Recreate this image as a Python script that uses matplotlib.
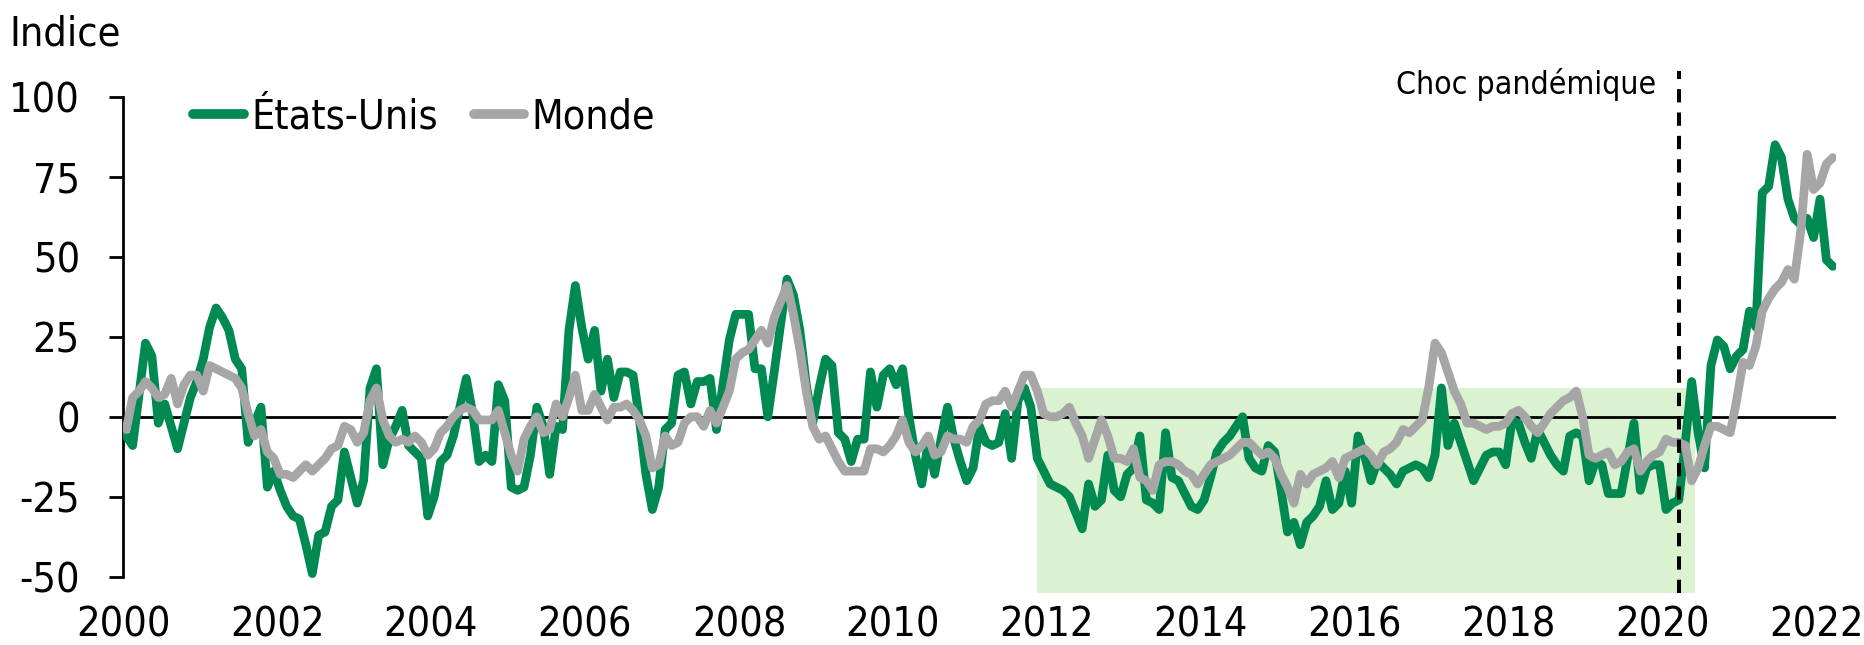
import numpy as np
import matplotlib
matplotlib.use("Agg")
import matplotlib.pyplot as plt
from matplotlib import font_manager as fm
from matplotlib.textpath import TextPath

plt.rcParams['axes.unicode_minus'] = False

# valeurs mensuelles, janvier 2000 a mars 2022
etats_unis = [
    -6, -9, 7, 23, 19, -2, 4, -3, -10, -2, 6, 11,            # 2000
    18, 28, 34, 31, 27, 18, 15, -8, -2, 3, -22, -17,         # 2001
    -23, -28, -31, -32, -40, -49, -37, -36, -28, -26, -11, -19,  # 2002
    -27, -20, 9, 15, -15, -7, -3, 2, -9, -11, -13, -31,      # 2003
    -25, -14, -12, -6, 3, 12, 1, -14, -12, -14, 10, 5,       # 2004
    -22, -23, -22, -12, 3, -3, -18, -3, -4, 27, 41, 28,      # 2005
    18, 27, 8, 18, 6, 14, 14, 13, -1, -18, -29, -22,         # 2006
    -4, -2, 13, 14, 4, 11, 11, 12, -4, 10, 24, 32,           # 2007
    32, 32, 15, 15, 0, 14, 29, 43, 38, 27, 10, -2,           # 2008
    9, 18, 16, -5, -7, -14, -7, -7, 14, 3, 13, 15,           # 2009
    10, 15, 0, -12, -21, -8, -18, -7, 3, -7, -14, -20,       # 2010
    -16, -3, -8, -9, -8, 1, -13, 5, 9, 3, -13, -17,          # 2011
    -21, -22, -23, -25, -30, -35, -21, -28, -26, -12, -23, -25,  # 2012
    -18, -16, -6, -26, -27, -29, -5, -19, -20, -24, -28, -29,    # 2013
    -26, -19, -11, -8, -6, -3, 0, -13, -16, -17, -9, -11,        # 2014
    -23, -36, -33, -40, -33, -31, -28, -20, -29, -27, -17, -27,  # 2015
    -6, -12, -20, -14, -16, -18, -21, -17, -16, -15, -16, -19,   # 2016
    -12, 9, -9, -2, -8, -14, -20, -16, -12, -11, -11, -15,       # 2017
    -1, -2, -8, -13, -4, -8, -12, -15, -17, -6, -5, -6,          # 2018
    -20, -14, -15, -24, -24, -24, -13, -2, -23, -16, -15, -15,   # 2019
    -29, -27, -26, -8, 11, -5, -16, 16, 24, 22, 15, 19,          # 2020
    21, 33, 28, 70, 72, 85, 81, 68, 62, 60, 62, 56,              # 2021
    68, 49, 47,                                                  # 2022
]

monde = [
    -4, 6, 8, 11, 9, 6, 7, 12, 4, 10, 13, 13,                # 2000
    8, 16, 15, 14, 13, 12, 9, 1, -6, -4, -11, -13,           # 2001
    -18, -18, -19, -17, -15, -17, -15, -13, -10, -9, -3, -4, # 2002
    -8, -5, 5, 9, -1, -6, -8, -7, -8, -6, -8, -12,           # 2003
    -10, -5, -3, 0, 2, 3, 2, -1, -1, -1, 2, -5,              # 2004
    -12, -17, -7, -3, 0, -5, -4, 4, 0, 6, 13, 2,             # 2005
    2, 7, 3, -1, 3, 3, 4, 2, -1, -6, -16, -15,               # 2006
    -6, -9, -8, -2, 0, 0, -3, 2, -2, 3, 8, 18,               # 2007
    20, 21, 24, 27, 23, 31, 36, 41, 32, 21, 8, -3,           # 2008
    -7, -6, -10, -14, -17, -17, -17, -17, -10, -10, -11, -9, # 2009
    -6, -1, -8, -11, -9, -6, -12, -11, -6, -7, -7, -8,       # 2010
    -3, -1, 4, 5, 5, 8, 3, 8, 13, 13, 8, 1,                  # 2011
    0, 0, 1, 3, -2, -6, -13, -7, -1, -6, -13, -13,           # 2012
    -14, -10, -19, -20, -23, -15, -14, -14, -15, -17, -18, -21,  # 2013
    -18, -15, -14, -13, -12, -10, -8, -8, -10, -12, -11, -13,    # 2014
    -18, -22, -27, -18, -21, -18, -17, -16, -14, -19, -13, -12,  # 2015
    -11, -10, -12, -15, -11, -10, -8, -4, -5, -3, -1, 9,         # 2016
    23, 20, 14, 8, 4, -2, -2, -3, -4, -3, -3, -2,                # 2017
    1, 2, 0, -3, -5, -2, 1, 3, 5, 6, 8, 0,                       # 2018
    -12, -13, -12, -11, -15, -14, -11, -10, -17, -14, -12, -11,  # 2019
    -7, -8, -8, -9, -20, -16, -9, -3, -3, -4, -5, 5,             # 2020
    17, 16, 22, 33, 37, 40, 42, 46, 43, 58, 82, 71,              # 2021
    73, 79, 81,                                                  # 2022
]

annees_ticks = list(range(2000, 2023, 2))
y_ticks = [-50, -25, 0, 25, 50, 75, 100]

# zone ombragee et choc pandemique
zone_debut = 2011 + 10.5 / 12
zone_fin = 2020 + 5 / 12
zone_bas = -55
zone_haut = 9
choc = 2020 + 2.5 / 12

VERT = '#008A52'
GRIS = '#A6A6A6'
OMBRE = '#DAF2D0'


def choisir_police():
    # police etroite si elle existe, sinon une sans-serif ordinaire
    ordre = ['Liberation Sans Narrow', 'Open Sans', 'Noto Sans', 'Roboto', 'Lato',
             'DejaVu Sans', 'Inter', 'Liberation Sans']
    etroites, normales = [], []
    for e in fm.fontManager.ttflist:
        w = e.weight
        if isinstance(w, str):
            w = {'normal': 400, 'regular': 400, 'book': 400}.get(w.lower(), 0)
        if e.style != 'normal' or not (350 <= w <= 450):
            continue
        if 'Mono' in e.name or 'Serif' in e.name or 'CJK' in e.name:
            continue
        nom_fichier = e.fname.split('/')[-1]
        st = str(e.stretch)
        if ('Narrow' in e.name or 'Condensed' in nom_fichier or 'Narrow' in nom_fichier
                or st in ('condensed', 'extra-condensed', 'semi-condensed')):
            rang = ordre.index(e.name) if e.name in ordre else len(ordre)
            semi = 1 if ('Semi' in nom_fichier or st == 'semi-condensed') else 0
            etroites.append((semi, rang, e.fname))
        elif e.name in ordre:
            normales.append((ordre.index(e.name), e.fname))
    if etroites:
        return fm.FontProperties(fname=sorted(etroites)[0][2])
    if normales:
        return fm.FontProperties(fname=sorted(normales)[0][1])
    return fm.FontProperties(family='DejaVu Sans')


police = choisir_police()


def taille(texte, largeur_px):
    # taille en points pour que le texte ait la largeur voulue a 100 dpi
    w = TextPath((0, 0), texte, size=100, prop=police).get_extents().width
    return 100 * largeur_px * 0.72 / w


def prop(taille_pt):
    p = police.copy()
    p.set_size(taille_pt)
    return p


t_ticks = taille('2002', 88)
t_legende = taille('États-Unis', 181)
t_choc = taille('Choc pandémique', 256)
t_indice = taille('Indice', 106)

dates = 2000 + (np.arange(len(etats_unis)) + 0.5) / 12

fig = plt.figure(figsize=(18.64, 6.45), dpi=100)
ax = fig.add_axes([0.066, 0.081, 0.919, 0.769])

ax.fill_between([zone_debut, zone_fin], zone_bas, zone_haut, color=OMBRE, lw=0, zorder=0)
ax.axhline(0, color='black', lw=2, zorder=1)
ax.plot(dates, etats_unis, color=VERT, lw=6.3, label='États-Unis',
        solid_joinstyle='round', solid_capstyle='round', zorder=3)
ax.plot(dates, monde, color=GRIS, lw=6.3, label='Monde',
        solid_joinstyle='round', solid_capstyle='round', zorder=4)
ax.plot([choc, choc], [zone_bas, 108], color='black', lw=2.9,
        ls=(0, (3.3, 2.5)), clip_on=False, zorder=5)
ax.text(choc - 0.29, 101, 'Choc pandémique', ha='right', va='baseline',
        fontproperties=prop(t_choc))

ax.set_xlim(2000, 2022.25)
ax.set_ylim(-55, 100)
for s in ['top', 'right', 'bottom']:
    ax.spines[s].set_visible(False)
ax.spines['left'].set_bounds(-50, 100)
ax.spines['left'].set_linewidth(2)

ax.set_yticks(y_ticks)
ax.set_yticklabels([str(v) for v in y_ticks], fontproperties=prop(t_ticks))
ax.tick_params(axis='y', length=10, width=2, pad=21)
ax.set_xticks(annees_ticks)
ax.set_xticklabels([str(a) for a in annees_ticks], fontproperties=prop(t_ticks))
ax.tick_params(axis='x', length=0, pad=9)

leg = ax.legend(loc='center left', bbox_to_anchor=(0.041, 0.959), frameon=False,
                prop=prop(t_legende), ncol=2,
                handlelength=36.5 / t_legende, handletextpad=5.0 / t_legende,
                columnspacing=26.0 / t_legende, borderpad=0, borderaxespad=0)
for ligne in leg.get_lines():
    ligne.set_linewidth(7)

fig.text(0.005, 0.930, 'Indice', ha='left', va='baseline', fontproperties=prop(t_indice))

fig.savefig('out.png', dpi=100)
